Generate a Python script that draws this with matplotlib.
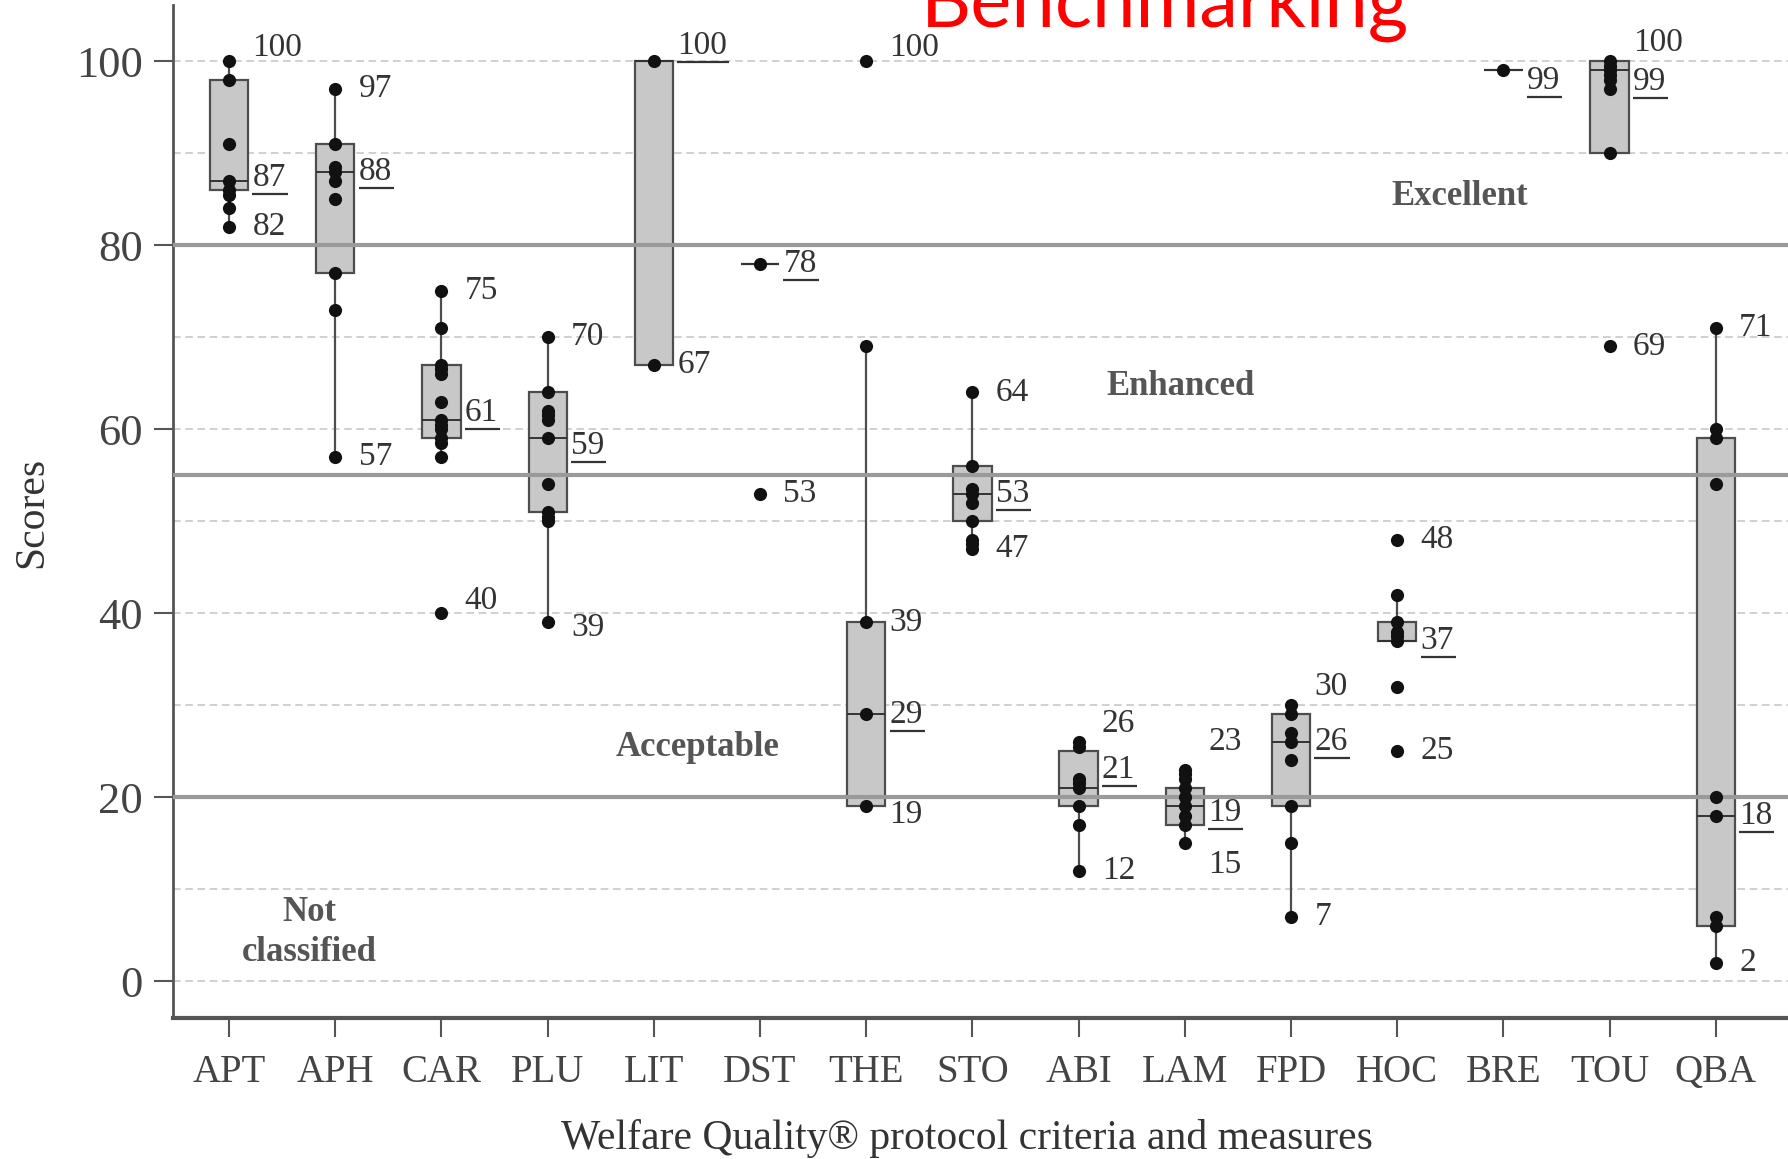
import matplotlib.pyplot as plt

plt.rcParams['font.family'] = 'Liberation Serif'

# Welfare Quality criteria / measures
categories = ['APT', 'APH', 'CAR', 'PLU', 'LIT', 'DST', 'THE', 'STO',
              'ABI', 'LAM', 'FPD', 'HOC', 'BRE', 'TOU', 'QBA']

# individual farm scores
apt_pts = [100, 98, 91, 87, 86, 85.5, 84, 82]
aph_pts = [97, 91, 88.5, 88, 87, 85, 77, 73, 57]
car_pts = [75, 71, 67, 66.5, 66, 63, 61, 60.5, 60, 59, 58.5, 57, 40]
plu_pts = [70, 64, 62, 61.5, 61, 59, 54, 51, 50.5, 50, 39]
lit_pts = [100, 67]
dst_pts = [78, 53]
the_pts = [100, 69, 39, 29, 19]
sto_pts = [64, 56, 53.5, 53, 52, 50, 48, 47.5, 47]
abi_pts = [26, 25.5, 22, 21.5, 21, 19, 17, 12]
lam_pts = [23, 22.5, 22, 21, 20, 19, 18, 17, 15]
fpd_pts = [30, 29, 27, 26, 24, 19, 15, 7]
hoc_pts = [48, 42, 39, 38, 37.5, 37, 32, 25]
bre_pts = [99]
tou_pts = [100, 99.5, 99, 98.5, 98, 97, 90, 69]
qba_pts = [71, 60, 59, 54, 20, 18, 7, 6, 2]

# box statistics
q1 = [86, 77, 59, 51, 67, 78, 19, 50, 19, 17, 19, 37, 99, 90, 6]
medians = [87, 88, 61, 59, 100, 78, 29, 53, 21, 19, 26, 37, 99, 99, 18]
q3 = [98, 91, 67, 64, 100, 78, 39, 56, 25, 21, 29, 39, 99, 100, 59]
whisk_lo = [82, 57, 57, 39, 67, 78, 19, 47, 12, 15, 7, 37, 99, 90, 2]
whisk_hi = [100, 97, 75, 70, 100, 78, 69, 64, 26, 23, 30, 42, 99, 100, 71]

# numbers printed next to each box (median is underlined)
value_labels = [[100, 87, 82], [97, 88, 57], [75, 61, 40], [70, 59, 39],
                [100, 67], [78, 53], [100, 39, 29, 19], [64, 53, 47],
                [26, 21, 12], [23, 19, 15], [30, 26, 7], [48, 37, 25],
                [99], [100, 99, 69], [71, 18, 2]]

thresholds = [80, 55, 20]
zones = ['Excellent', 'Enhanced', 'Acceptable', 'Not\nclassified']

# small vertical nudges of some labels so they don't sit on the dots
label_nudge = {(0, 100): 1.5, (0, 87): 0.3, (2, 61): 0.8, (2, 40): 1.3,
               (3, 59): -0.8, (3, 39): -0.6, (4, 100): 1.7, (6, 100): 1.5,
               (6, 19): -0.9, (8, 26): 2.0, (8, 21): 2.0, (9, 23): 3.0,
               (9, 19): -0.7, (9, 15): -2.4, (10, 30): 2.0, (12, 99): -1.1,
               (13, 100): 2.0, (13, 99): -1.2}

all_points = [apt_pts, aph_pts, car_pts, plu_pts, lit_pts, dst_pts, the_pts,
              sto_pts, abi_pts, lam_pts, fpd_pts, hoc_pts, bre_pts, tou_pts,
              qba_pts]

fig = plt.figure(figsize=(17.88, 11.59), dpi=100)
ax = fig.add_axes([0.0968, 0.1217, 0.9032, 0.874])

x = list(range(len(categories)))

# dashed grid + solid class thresholds
for v in range(0, 101, 10):
    ax.axhline(v, color='#c4c4c4', linewidth=1.1, linestyle=(0, (5, 3)), zorder=1)
for v in thresholds:
    ax.axhline(v, color='#9a9a9a', linewidth=3, zorder=3)

stats = []
for i in x:
    stats.append(dict(q1=q1[i], med=medians[i], q3=q3[i],
                      whislo=whisk_lo[i], whishi=whisk_hi[i], fliers=[]))
ax.bxp(stats, positions=x, widths=0.36, patch_artist=True, showcaps=False,
       showfliers=False,
       boxprops=dict(facecolor='#c8c8c8', edgecolor='#4d4d4d', linewidth=1.6),
       whiskerprops=dict(color='#4d4d4d', linewidth=1.6),
       medianprops=dict(color='#333333', linewidth=1.4), zorder=2)

for i, pts in enumerate(all_points):
    ax.scatter([i] * len(pts), pts, s=90, color='#111111', zorder=4,
               linewidths=0)

ax.set_xlim(-0.527, 14.68)
ax.set_ylim(-4.0, 106.1)

underlined = []
for i, labs in enumerate(value_labels):
    for v in labs:
        y = v + label_nudge.get((i, v), 0)
        t = ax.text(i + 0.22, y, str(v), fontsize=24, color='#333333',
                    ha='left', va='center', zorder=5)
        if v == round(medians[i]):
            underlined.append(t)

# mathtext has no \underline, so draw the rule under the median labels
fig.canvas.draw()
renderer = fig.canvas.get_renderer()
inv = ax.transData.inverted()
for t in underlined:
    bb = t.get_window_extent(renderer)
    (x0, y0), (x1, _) = inv.transform([(bb.x0, bb.y0 - 1), (bb.x1 + 2, bb.y0)])
    ax.plot([x0, x1], [y0, y0], color='#333333', linewidth=1.6, zorder=5,
            solid_capstyle='butt')

zone_style = dict(fontsize=25, fontweight='bold', color='#555555',
                  ha='center', va='center', linespacing=1.25)
ax.text(11.59, 85.3, zones[0], **zone_style)
ax.text(8.96, 64.6, zones[1], **zone_style)
ax.text(4.41, 25.4, zones[2], **zone_style)
ax.text(0.76, 5.3, zones[3], **zone_style)

ax.set_xticks(x)
ax.set_xticklabels(categories)
ax.set_yticks([0, 20, 40, 60, 80, 100])
ax.tick_params(axis='y', length=14, width=1.5, color='#555555',
               labelsize=32, labelcolor='#444444', pad=8)
ax.tick_params(axis='x', length=14, width=1.5, color='#555555',
               labelsize=28, labelcolor='#444444', pad=12)

for side in ['top', 'right']:
    ax.spines[side].set_visible(False)
ax.spines['left'].set_color('#555555')
ax.spines['left'].set_linewidth(2)
ax.spines['bottom'].set_color('#555555')
ax.spines['bottom'].set_linewidth(3)

fig.text(0.541, 0.018, 'Welfare Quality® protocol criteria and measures',
         fontsize=30, color='#333333', ha='center', va='center')
fig.text(0.018, 0.558, 'Scores', fontsize=30, color='#333333',
         rotation=90, ha='center', va='center')
fig.text(0.6516, 1 - 27 / 1159, 'Benchmarking', color='#ff0000',
         fontsize=56, family='Lato', ha='center', va='baseline')

fig.savefig('out.png', dpi=100)
